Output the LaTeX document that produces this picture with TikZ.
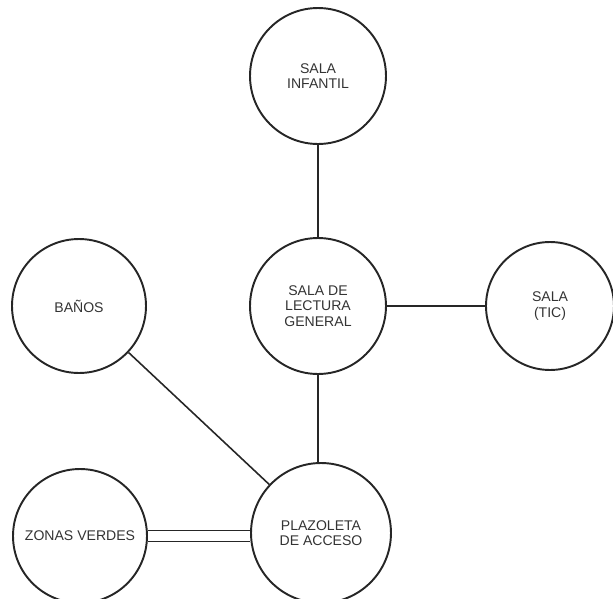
\documentclass[tikz,border=0pt]{standalone}
\usepackage{fontspec}
\setmainfont{Liberation Sans}
\tikzset{
every picture/.style={
line width=1.1pt
}}
\tikzset{
sala/.style={circle, draw=black!85, inner sep=0pt, align=center,
  text=black!80, font=\fontsize{8}{8.8}\selectfont},
enlace/.style={draw=black!85, line width=0.9pt}
}

\begin{document}
\begin{tikzpicture}[x=0.02cm, y=-0.02cm]
  \useasboundingbox (0,0) rectangle (613,599);

  \node[sala, minimum size=2.72cm] (infantil) at (318,76) {SALA\\INFANTIL};
  \node[sala, minimum size=2.72cm] (lectura) at (318,306) {SALA DE\\LECTURA\\GENERAL};
  \node[sala, minimum size=2.56cm] (tic) at (550,306) {SALA\\(TIC)};
  \node[sala, minimum size=2.68cm] (banos) at (79,306) {BAÑOS};
  \node[sala, minimum size=2.68cm] (verdes) at (80,536) {ZONAS VERDES};
  \node[sala, minimum size=2.8cm] (plazoleta) at (321,533) {PLAZOLETA\\DE ACCESO};

  \draw[enlace] (infantil) -- (lectura);
  \draw[enlace] (lectura) -- (tic);
  \draw[enlace] (lectura) -- (lectura|-plazoleta.north);
  \draw[enlace] (banos) -- (plazoleta);
  \draw[enlace, double, double distance=5.5pt] (verdes) -- (verdes-|plazoleta.west);
\end{tikzpicture}
\end{document}
